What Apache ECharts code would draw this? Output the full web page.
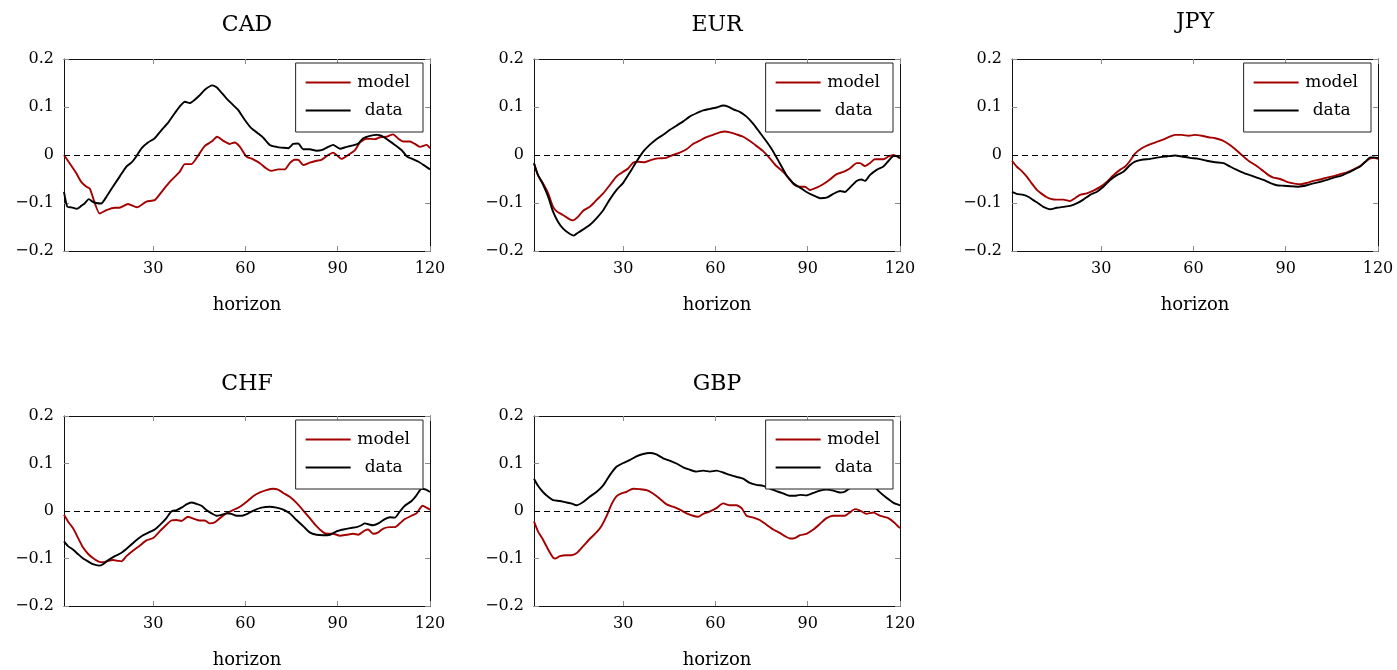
<!DOCTYPE html>
<html>
<head>
<meta charset="utf-8">
<script src="https://cdn.jsdelivr.net/npm/echarts@6/dist/echarts.min.js"></script>
<style>
html,body{margin:0;padding:0;background:#fff;}
#chart{width:1397px;height:670px;}
</style>
</head>
<body>
<div id="chart"></div>
<script>
// ---- data (horizon, value) ----
var panelNames = ['CAD', 'EUR', 'JPY', 'CHF', 'GBP'];
var seriesNames = ['model', 'data'];
var xTicks = [30, 60, 90, 120];
var yTicks = [-0.2, -0.1, 0, 0.1, 0.2];
var axisLabelName = 'horizon';

var cadModel = [[1,0],[5,-0.038],[6.6,-0.056],[8.3,-0.066],[9.4,-0.07],[12.6,-0.122],[14.8,-0.115],[17.5,-0.11],[19,-0.11],[21.8,-0.102],[24.7,-0.109],[27.8,-0.097],[30.5,-0.094],[33.2,-0.073],[35.4,-0.056],[38.6,-0.035],[40.3,-0.019],[42.4,-0.019],[44,-0.007],[46.8,0.019],[49,0.028],[50.8,0.038],[52.7,0.03],[54.9,0.023],[56.5,0.026],[58.2,0.017],[60.3,-0.003],[62.5,-0.009],[64.7,-0.017],[66.8,-0.028],[68.5,-0.033],[70.6,-0.03],[72.8,-0.03],[74.4,-0.017],[76,-0.01],[77.1,-0.01],[78.8,-0.021],[80.9,-0.016],[83.1,-0.012],[84.7,-0.01],[86.9,0],[88.5,0.005],[89.6,0],[91.2,-0.008],[93.4,0],[95.6,0.01],[97.2,0.026],[99.4,0.034],[102.1,0.033],[103.7,0.037],[105.9,0.038],[108,0.043],[109.7,0.034],[111.3,0.028],[113.5,0.028],[115.1,0.023],[116.7,0.017],[118.9,0.021],[120,0.014]];
var cadData = [[1,-0.077],[2.1,-0.108],[3.4,-0.109],[5.2,-0.112],[6.6,-0.106],[7.7,-0.101],[9.1,-0.092],[10.2,-0.097],[11.5,-0.1],[13.1,-0.101],[14.8,-0.087],[16.9,-0.066],[19.1,-0.045],[21.3,-0.024],[22.9,-0.016],[24.5,-0.003],[26.2,0.014],[28.3,0.026],[30.5,0.035],[32.7,0.052],[34.8,0.067],[37,0.087],[38.6,0.101],[40.3,0.111],[41.9,0.108],[43.5,0.115],[45.2,0.125],[46.8,0.136],[49.2,0.145],[50.6,0.141],[52.2,0.13],[53.8,0.118],[56,0.104],[57.6,0.094],[59.8,0.073],[61.9,0.056],[64.1,0.045],[65.8,0.036],[67.9,0.021],[70.1,0.017],[72.3,0.015],[73.9,0.014],[75.5,0.023],[77.1,0.024],[78.8,0.012],[80.9,0.012],[83.1,0.009],[84.7,0.01],[86.9,0.017],[88.5,0.021],[90.7,0.013],[92.9,0.017],[95,0.02],[96.7,0.024],[98.3,0.035],[100.5,0.04],[102.7,0.042],[104.3,0.04],[106.4,0.031],[108.6,0.021],[110.8,0.01],[112.5,-0.003],[114.6,-0.009],[116.3,-0.014],[118.4,-0.023],[120,-0.03]];

var eurModel = [[1,-0.017],[2.3,-0.042],[3.9,-0.059],[5.6,-0.08],[7.2,-0.108],[8.5,-0.118],[10.4,-0.125],[12.6,-0.134],[13.7,-0.136],[15.3,-0.129],[17,-0.116],[19.1,-0.108],[21.3,-0.094],[23.5,-0.08],[25.6,-0.063],[27.8,-0.045],[30,-0.035],[31.6,-0.028],[33.2,-0.016],[34.8,-0.014],[37,-0.015],[39.2,-0.01],[41.3,-0.007],[44,-0.006],[46.2,0],[48.4,0.005],[50.6,0.012],[52.7,0.023],[54.9,0.03],[57.1,0.037],[59.2,0.042],[61.4,0.047],[63,0.049],[64.7,0.047],[66.8,0.043],[69,0.038],[71.2,0.029],[73.3,0.019],[75.5,0.008],[77.7,-0.007],[79.8,-0.023],[82,-0.035],[84.2,-0.051],[85.8,-0.063],[87.5,-0.066],[89.1,-0.066],[90.7,-0.073],[92.9,-0.068],[95,-0.061],[97.2,-0.051],[99.4,-0.04],[101.6,-0.035],[103.7,-0.028],[105.9,-0.017],[107,-0.017],[108.6,-0.023],[110.2,-0.017],[111.8,-0.009],[114.6,-0.009],[116.3,-0.003],[117.9,0],[120,-0.007]];
var eurData = [[1,-0.017],[2.3,-0.042],[3.9,-0.061],[5.6,-0.087],[7.2,-0.118],[8.8,-0.139],[10.4,-0.153],[12.1,-0.162],[13.9,-0.168],[15.3,-0.162],[17,-0.155],[19.1,-0.146],[21.3,-0.132],[23.5,-0.115],[25.6,-0.093],[27.8,-0.073],[30,-0.058],[32.1,-0.037],[34.3,-0.014],[36.5,0.007],[38.6,0.021],[40.8,0.033],[43,0.042],[45.1,0.052],[47.3,0.061],[49.5,0.07],[51.6,0.08],[53.8,0.087],[56,0.093],[58.2,0.096],[60.3,0.099],[62.5,0.103],[64.1,0.101],[65.8,0.095],[67.9,0.09],[70.1,0.08],[72.3,0.065],[74.4,0.047],[76.6,0.028],[78.8,0.007],[80.9,-0.017],[83.1,-0.042],[85.3,-0.059],[87.5,-0.068],[89.6,-0.077],[91.8,-0.084],[94,-0.09],[96.1,-0.089],[98.3,-0.081],[100.5,-0.075],[102.1,-0.077],[103.7,-0.068],[105.9,-0.054],[107.5,-0.051],[108.6,-0.054],[110.2,-0.042],[112.4,-0.031],[114.6,-0.024],[116.3,-0.012],[117.9,-0.002],[119,-0.002],[120,-0.006]];

var jpyModel = [[1,-0.012],[2.5,-0.024],[4.1,-0.033],[5.8,-0.045],[7.4,-0.059],[9,-0.072],[10.7,-0.081],[12.3,-0.088],[13.9,-0.092],[15.5,-0.093],[17.7,-0.093],[19.9,-0.096],[21.5,-0.09],[23.1,-0.083],[25.3,-0.08],[27.5,-0.074],[29.6,-0.067],[31.8,-0.056],[34,-0.042],[36.1,-0.031],[37.8,-0.024],[39.4,-0.012],[41,0.003],[43.2,0.014],[45.4,0.021],[47.5,0.026],[49.7,0.031],[51.9,0.037],[54,0.042],[56.2,0.042],[58.4,0.04],[60.5,0.042],[62.7,0.04],[64.9,0.037],[67.1,0.035],[69.2,0.031],[71.4,0.023],[73.6,0.012],[75.7,0],[77.9,-0.012],[80.1,-0.021],[82.2,-0.031],[84.4,-0.042],[86,-0.047],[88.2,-0.05],[90.4,-0.056],[92.5,-0.059],[94.7,-0.061],[96.9,-0.058],[99,-0.054],[101.2,-0.051],[103.4,-0.047],[105.6,-0.044],[107.7,-0.04],[109.9,-0.036],[112.1,-0.03],[114.2,-0.023],[115.9,-0.014],[117.5,-0.007],[118.6,-0.006],[120,-0.008]];
var jpyData = [[1,-0.077],[2.5,-0.081],[4.7,-0.083],[6.3,-0.087],[7.9,-0.094],[9.6,-0.101],[11.2,-0.108],[13.4,-0.113],[15.5,-0.11],[17.7,-0.108],[19.9,-0.106],[22,-0.101],[24.2,-0.093],[26.4,-0.083],[28.5,-0.077],[30.7,-0.066],[32.9,-0.052],[35.1,-0.042],[37.2,-0.035],[39.4,-0.021],[41,-0.014],[43.2,-0.01],[45.9,-0.008],[48.6,-0.005],[51.3,-0.003],[54,-0.001],[56.2,-0.003],[58.9,-0.006],[61.6,-0.008],[64.3,-0.012],[67.1,-0.015],[69.8,-0.017],[71.9,-0.024],[74.1,-0.031],[76.3,-0.037],[78.4,-0.042],[80.6,-0.047],[82.8,-0.052],[84.9,-0.058],[87.1,-0.063],[89.3,-0.064],[91.5,-0.065],[94.2,-0.066],[96.9,-0.063],[99,-0.059],[101.2,-0.056],[103.4,-0.052],[105.6,-0.047],[107.7,-0.044],[109.9,-0.038],[112.1,-0.031],[114.2,-0.024],[115.9,-0.014],[117.5,-0.005],[118.6,-0.005],[120,-0.006]];

var chfModel = [[1,-0.008],[2.3,-0.022],[3.9,-0.036],[5.6,-0.057],[7.2,-0.077],[8.8,-0.09],[10.4,-0.099],[12.1,-0.106],[13.7,-0.108],[15.3,-0.105],[17,-0.103],[18.6,-0.105],[19.7,-0.106],[21.3,-0.095],[23.5,-0.083],[25.6,-0.073],[27.8,-0.062],[30,-0.057],[32.1,-0.043],[34.3,-0.029],[35.9,-0.02],[37.6,-0.019],[39.2,-0.021],[41.3,-0.012],[43.5,-0.017],[45.1,-0.02],[46.8,-0.02],[48.4,-0.026],[50,-0.024],[51.7,-0.015],[53.8,-0.005],[56,0.002],[58.2,0.009],[60.3,0.019],[62.5,0.031],[64.7,0.039],[66.8,0.044],[69,0.047],[70.6,0.045],[72.3,0.038],[74.4,0.03],[76.6,0.017],[78.8,0.001],[80.9,-0.015],[83.1,-0.032],[85.3,-0.045],[86.9,-0.048],[88.5,-0.048],[90.7,-0.052],[92.9,-0.05],[95,-0.048],[96.7,-0.05],[98.8,-0.041],[99.9,-0.039],[101.5,-0.048],[103.2,-0.045],[104.8,-0.037],[107,-0.034],[108.6,-0.034],[110.2,-0.026],[111.8,-0.017],[114,-0.01],[115.6,-0.005],[117.6,0.011],[118.9,0.007],[120,0.003]];
var chfData = [[1,-0.064],[2.3,-0.074],[3.9,-0.081],[5.6,-0.091],[7.2,-0.1],[8.8,-0.106],[10.4,-0.112],[12.4,-0.115],[13.7,-0.112],[15.3,-0.104],[17.5,-0.095],[19.7,-0.088],[21.8,-0.077],[24,-0.064],[26.2,-0.053],[28.3,-0.046],[30.5,-0.039],[32.7,-0.026],[34.3,-0.015],[35.9,-0.001],[37.6,0.002],[39.2,0.007],[40.8,0.014],[42.4,0.018],[44.1,0.015],[45.7,0.011],[47.3,0.002],[49,-0.005],[50.6,-0.01],[52.2,-0.008],[53.8,-0.005],[55.4,-0.006],[57.1,-0.01],[58.7,-0.01],[60.9,-0.005],[63,0.002],[65.2,0.007],[67.9,0.009],[70.1,0.007],[72.3,0.003],[74.4,-0.005],[76.6,-0.019],[78.8,-0.032],[80.9,-0.045],[83.1,-0.05],[85.3,-0.051],[87.5,-0.05],[89.6,-0.043],[91.8,-0.039],[94,-0.036],[96.1,-0.034],[97.7,-0.03],[98.8,-0.026],[100.5,-0.029],[101.5,-0.03],[103.2,-0.026],[105.3,-0.017],[107,-0.013],[108.6,-0.014],[110.2,-0.001],[111.8,0.011],[114,0.021],[115.6,0.033],[117.3,0.047],[118.7,0.045],[120,0.04]];

var gbpModel = [[1,-0.022],[2.3,-0.043],[3.9,-0.06],[5.6,-0.081],[7.2,-0.098],[8,-0.1],[9.4,-0.095],[11.5,-0.093],[13.1,-0.093],[14.8,-0.089],[17,-0.074],[19.1,-0.059],[21.3,-0.045],[22.9,-0.032],[24.5,-0.012],[26.2,0.014],[27.8,0.031],[29.4,0.037],[31,0.04],[33.2,0.047],[35.4,0.046],[37.6,0.044],[39.7,0.037],[41.9,0.026],[44.1,0.014],[46.2,0.009],[48.4,0.003],[50.6,-0.005],[52.7,-0.01],[54.4,-0.012],[56,-0.006],[58.2,-0.001],[60.3,0.006],[62.5,0.016],[64.7,0.012],[66.8,0.012],[68.5,0.006],[70.1,-0.01],[72.3,-0.014],[74.4,-0.019],[76.6,-0.029],[78.8,-0.039],[80.9,-0.046],[82.6,-0.053],[84.2,-0.058],[85.8,-0.057],[87.5,-0.051],[89.6,-0.048],[91.8,-0.039],[94,-0.027],[96.1,-0.015],[98.3,-0.01],[100.5,-0.01],[102.1,-0.01],[103.7,-0.003],[105.3,0.004],[107,0.001],[109.1,-0.006],[111.3,-0.003],[112.9,-0.008],[114.6,-0.012],[116.2,-0.015],[117.9,-0.023],[120,-0.036]];
var gbpData = [[1,0.068],[2.3,0.053],[3.9,0.04],[5.6,0.03],[7.2,0.023],[9.4,0.021],[11.5,0.018],[13.1,0.016],[14.8,0.012],[17,0.019],[19.1,0.03],[21.3,0.04],[23.5,0.054],[25.6,0.075],[27.8,0.093],[30,0.101],[32.1,0.107],[34.3,0.115],[36.5,0.12],[38.6,0.122],[40.8,0.119],[43,0.111],[45.1,0.106],[47.3,0.1],[49.5,0.092],[51.6,0.087],[53.8,0.083],[56,0.085],[58.2,0.083],[60.3,0.085],[62.5,0.081],[64.7,0.076],[66.8,0.072],[69,0.068],[71.2,0.059],[73.3,0.055],[75.5,0.053],[77.7,0.047],[79.8,0.042],[82,0.037],[84.2,0.032],[85.8,0.032],[87.5,0.034],[89.6,0.033],[91.8,0.038],[94,0.043],[96.1,0.045],[98.3,0.043],[100.5,0.039],[102.1,0.041],[103.7,0.048],[106,0.056],[109,0.058],[111.5,0.052],[112.9,0.043],[114.6,0.033],[116.2,0.025],[117.9,0.017],[120,0.012]];

var modelSeries = [cadModel, eurModel, jpyModel, chfModel, gbpModel];
var dataSeries = [cadData, eurData, jpyData, chfData, gbpData];

// ---- layout / style ----
var FONT = 'DejaVu Serif';
var RED = '#a30000';
var W = 1397;
var grids = [
  {left: 64, top: 59, width: 366, height: 192},
  {left: 534, top: 59, width: 366, height: 192},
  {left: 1012, top: 59, width: 366, height: 192},
  {left: 64, top: 416, width: 366, height: 193},
  {left: 534, top: 416, width: 366, height: 193}
];
var titleY = [25.5, 25.5, 22, 384.5, 384.5];

function fmtY(v) {
  var s = Math.abs(v) < 1e-9 ? '0' : v.toFixed(1);
  return s.replace('-', '\u2212');
}

var option = {
  animation: false,
  backgroundColor: '#fff',
  grid: [], xAxis: [], yAxis: [], series: [], legend: [], graphic: []
};

grids.forEach(function (g, i) {
  option.grid.push({left: g.left, top: g.top, width: g.width, height: g.height, containLabel: false});
  var tickStyle = {color: '#8c8c8c', width: 1};
  var frame = {show: true, onZero: false, lineStyle: {color: '#111', width: 1}};
  option.xAxis.push({
    type: 'value', gridIndex: i, min: 1, max: 120, position: 'bottom',
    axisLine: frame,
    axisTick: {show: true, inside: true, length: 5, customValues: xTicks, lineStyle: tickStyle},
    axisLabel: {show: true, customValues: xTicks, fontFamily: FONT, fontSize: 16, color: '#000', margin: 10},
    splitLine: {show: false},
    name: axisLabelName, nameLocation: 'middle', nameGap: 45,
    nameTextStyle: {fontFamily: FONT, fontSize: 18, color: '#000'}
  });
  option.xAxis.push({
    type: 'value', gridIndex: i, min: 1, max: 120, position: 'top',
    axisLine: frame,
    axisTick: {show: true, inside: true, length: 5, customValues: xTicks, lineStyle: tickStyle},
    axisLabel: {show: false},
    splitLine: {show: false}
  });
  option.yAxis.push({
    type: 'value', gridIndex: i, min: -0.2, max: 0.2, interval: 0.1, position: 'left',
    axisLine: frame,
    axisTick: {show: true, inside: true, length: 5, lineStyle: tickStyle},
    axisLabel: {show: true, formatter: fmtY, fontFamily: FONT, fontSize: 16, color: '#000', margin: 10},
    splitLine: {show: false}
  });
  option.yAxis.push({
    type: 'value', gridIndex: i, min: -0.2, max: 0.2, interval: 0.1, position: 'right',
    axisLine: frame,
    axisTick: {show: true, inside: true, length: 5, lineStyle: tickStyle},
    axisLabel: {show: false},
    splitLine: {show: false}
  });
  option.series.push({
    type: 'line', name: seriesNames[0], xAxisIndex: 2 * i, yAxisIndex: 2 * i,
    data: modelSeries[i], showSymbol: false, symbol: 'none', smooth: 0.2,
    lineStyle: {color: RED, width: 1.9}, itemStyle: {color: RED}, z: 3,
    markLine: {
      silent: true, symbol: ['none', 'none'], label: {show: false},
      lineStyle: {color: '#000', type: [6, 4], width: 1.2},
      data: [{yAxis: 0}]
    }
  });
  option.series.push({
    type: 'line', name: seriesNames[1], xAxisIndex: 2 * i, yAxisIndex: 2 * i,
    data: dataSeries[i], showSymbol: false, symbol: 'none', smooth: 0.2,
    lineStyle: {color: '#000', width: 1.9}, itemStyle: {color: '#000'}, z: 3
  });
  option.legend.push({
    data: seriesNames, orient: 'vertical',
    right: W - (g.left + g.width - 7), top: g.top + 4,
    padding: [11, 13, 13, 10],
    icon: 'rect',
    itemWidth: 45, itemHeight: 2, itemGap: 11,
    backgroundColor: '#fff', borderColor: '#222', borderWidth: 1,
    selectedMode: false,
    formatter: '{t|{name}}',
    textStyle: {
      fontFamily: FONT, fontSize: 17, color: '#000',
      rich: {t: {width: 56, align: 'center', fontFamily: FONT, fontSize: 17, color: '#000'}}
    }
  });
  option.graphic.push({
    type: 'text', x: g.left + g.width / 2, y: titleY[i], z: 10,
    style: {text: panelNames[i], fontFamily: FONT, fontSize: 22, fill: '#000', textAlign: 'center', textVerticalAlign: 'middle'}
  });
});

var chart = echarts.init(document.getElementById('chart'));
chart.setOption(option);
</script>
</body>
</html>
